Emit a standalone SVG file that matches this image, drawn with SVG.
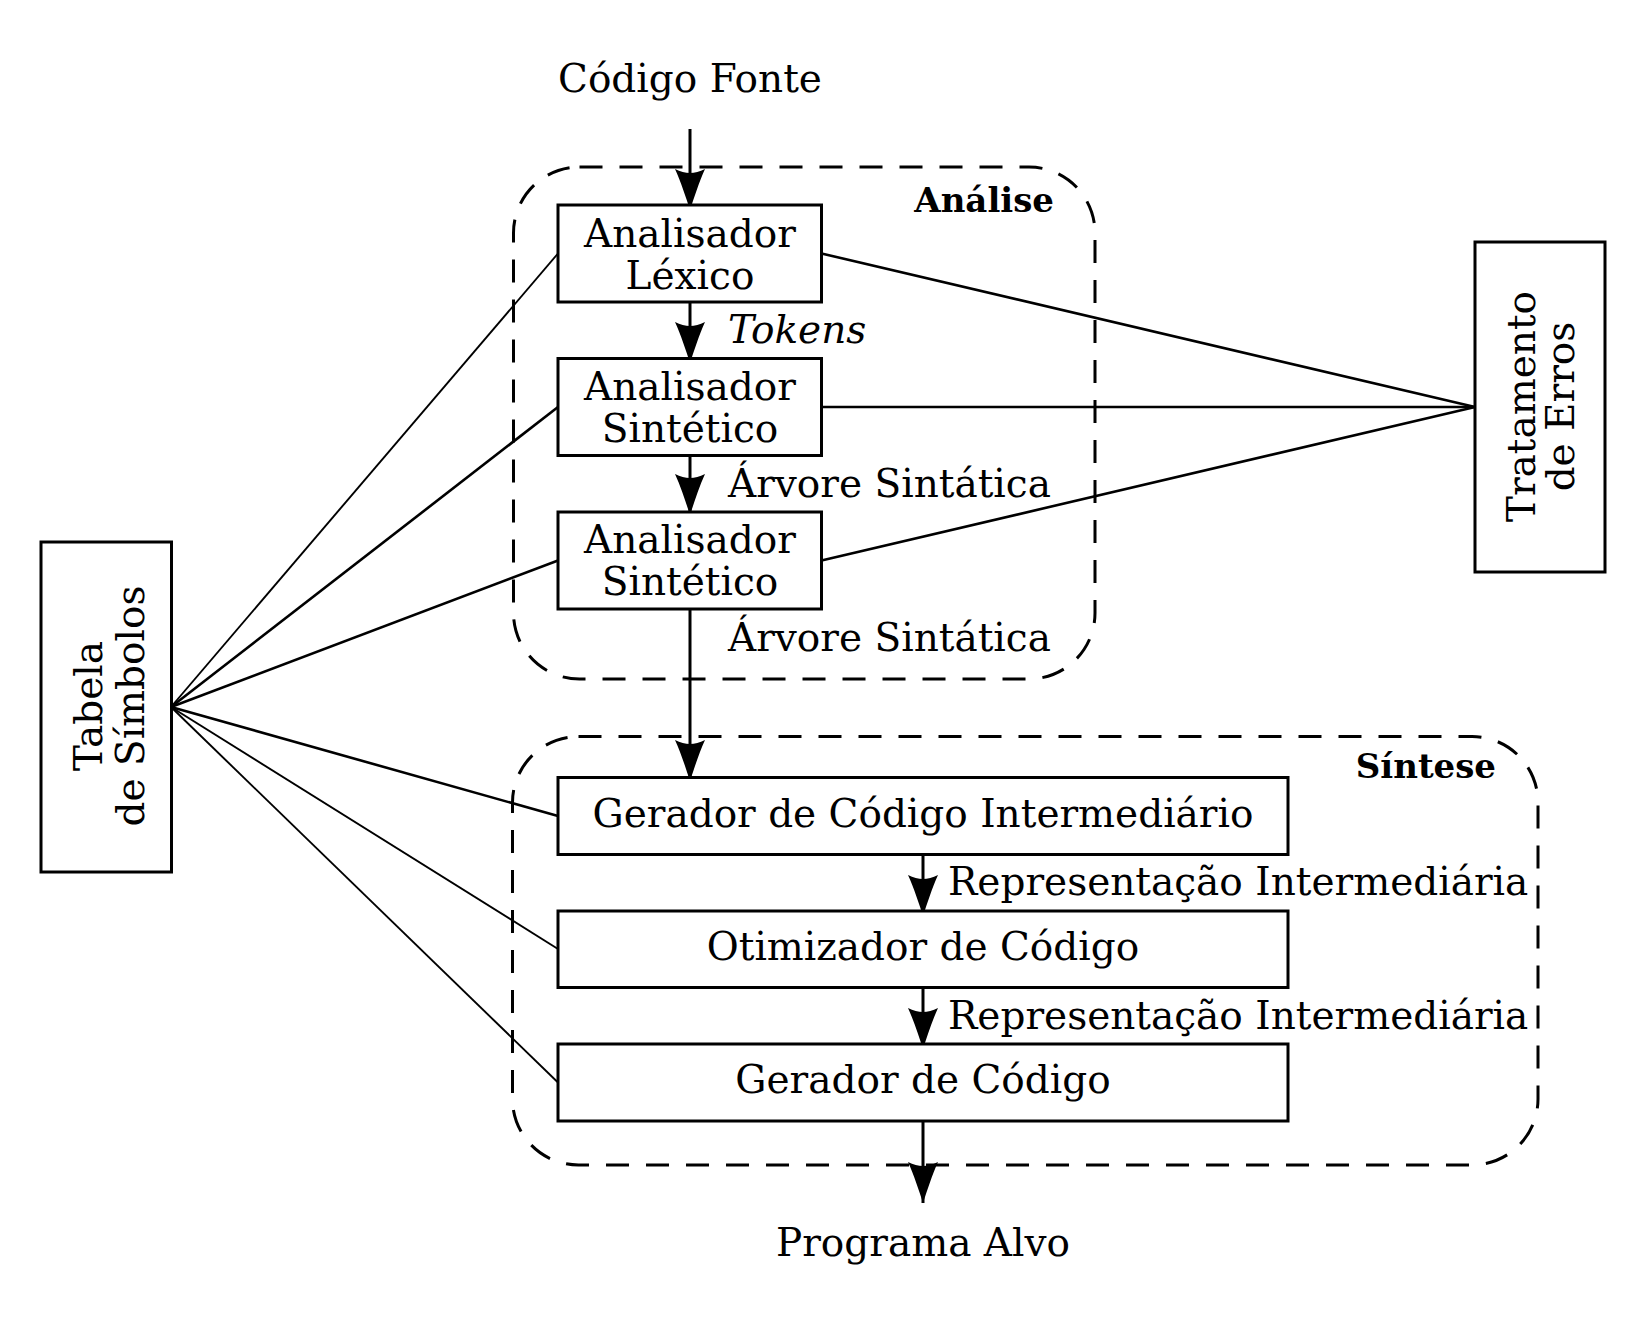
<svg xmlns="http://www.w3.org/2000/svg" width="1647" height="1327" viewBox="0 0 1647 1327">
<style>
text{font-family:"DejaVu Serif","Liberation Serif",serif;font-size:39px;fill:#000}
.c{text-anchor:middle}
.b{font-weight:bold;font-size:34px;text-anchor:end}
.i{font-style:italic}
.box{fill:#fff;stroke:#000;stroke-width:3}
.grp{fill:none;stroke:#000;stroke-width:3;stroke-dasharray:23 17}
.ln{stroke:#000;stroke-width:2.6;fill:none}
.thin{stroke-width:1.9}
.ar{stroke:#000;stroke-width:3;fill:none;marker-end:url(#ah)}
</style>
<defs>
<marker id="ah" markerUnits="userSpaceOnUse" viewBox="-44 -18 46 36" refX="0" refY="0" markerWidth="46" markerHeight="36" orient="auto">
<path d="M0,0 C-12,-4 -28,-9 -41,-15 Q-37,-7 -37,0 Q-37,7 -41,15 C-28,9 -12,4 0,0 Z" fill="#000"/>
</marker>
</defs>
<rect x="0" y="0" width="1647" height="1327" fill="#fff"/>
<g id="grupo-analise">
<rect class="grp" x="513.5" y="167" width="581.5" height="512" rx="66" ry="66"/>
<text class="b" x="1054" y="211.5">Análise</text>
</g>
<g id="grupo-sintese">
<rect class="grp" x="512.5" y="736.5" width="1025.5" height="428.5" rx="66" ry="66"/>
<text class="b" x="1496" y="778">Síntese</text>
</g>
<g id="connectors">
<line class="ln thin" x1="171" y1="707" x2="558" y2="253.5"/>
<line class="ln" x1="171" y1="707" x2="558" y2="407"/>
<line class="ln" x1="171" y1="707" x2="558" y2="560.5"/>
<line class="ln" x1="171" y1="707" x2="558" y2="816"/>
<line class="ln thin" x1="171" y1="707" x2="558" y2="949"/>
<line class="ln thin" x1="171" y1="707" x2="558" y2="1082.5"/>
<line class="ln" x1="821.5" y1="253.5" x2="1475" y2="407"/>
<line class="ln" x1="821.5" y1="407" x2="1475" y2="407"/>
<line class="ln" x1="821.5" y1="560.5" x2="1475" y2="407"/>
<line class="ar" x1="690" y1="129" x2="690" y2="210"/>
<line class="ar" x1="690" y1="302" x2="690" y2="363"/>
<line class="ar" x1="690" y1="455.5" x2="690" y2="515"/>
<line class="ar" x1="690" y1="609" x2="690" y2="781"/>
<line class="ar" x1="923" y1="854.5" x2="923" y2="916"/>
<line class="ar" x1="923" y1="987.5" x2="923" y2="1049"/>
<line class="ar" x1="923" y1="1121" x2="923" y2="1203"/>
<text class="i" x="728" y="343">Tokens</text>
<text x="728" y="497">Árvore Sintática</text>
<text x="728" y="651">Árvore Sintática</text>
<text x="948" y="895">Representação Intermediária</text>
<text x="948" y="1028.5">Representação Intermediária</text>
</g>
<g id="codigo-fonte"><text class="c" x="690" y="92">Código Fonte</text></g>
<g id="analisador-lexico">
<rect class="box" x="558" y="205" width="263.5" height="97"/>
<text class="c" x="690" y="246.5">Analisador</text>
<text class="c" x="690" y="289">Léxico</text>
</g>
<g id="analisador-sintetico-1">
<rect class="box" x="558" y="358.5" width="263.5" height="97"/>
<text class="c" x="690" y="400">Analisador</text>
<text class="c" x="690" y="441.5">Sintético</text>
</g>
<g id="analisador-sintetico-2">
<rect class="box" x="558" y="512" width="263.5" height="97"/>
<text class="c" x="690" y="553">Analisador</text>
<text class="c" x="690" y="594.5">Sintético</text>
</g>
<g id="gerador-intermediario">
<rect class="box" x="558" y="777.5" width="730" height="77"/>
<text class="c" x="923" y="827">Gerador de Código Intermediário</text>
</g>
<g id="otimizador">
<rect class="box" x="558" y="911" width="730" height="76.5"/>
<text class="c" x="923" y="960">Otimizador de Código</text>
</g>
<g id="gerador-codigo">
<rect class="box" x="558" y="1044" width="730" height="77"/>
<text class="c" x="923" y="1093">Gerador de Código</text>
</g>
<g id="programa-alvo"><text class="c" x="923" y="1256">Programa Alvo</text></g>
<g id="tabela-simbolos">
<rect class="box" x="41" y="542" width="130.5" height="330"/>
<g transform="translate(0,706) rotate(-90)">
<text class="c" x="0" y="101.5">Tabela</text>
<text class="c" x="0" y="143.5">de Símbolos</text>
</g>
</g>
<g id="tratamento-erros">
<rect class="box" x="1475" y="242" width="130" height="330"/>
<g transform="translate(0,406.5) rotate(-90)">
<text class="c" x="0" y="1535">Tratamento</text>
<text class="c" x="0" y="1574">de Erros</text>
</g>
</g>
</svg>
